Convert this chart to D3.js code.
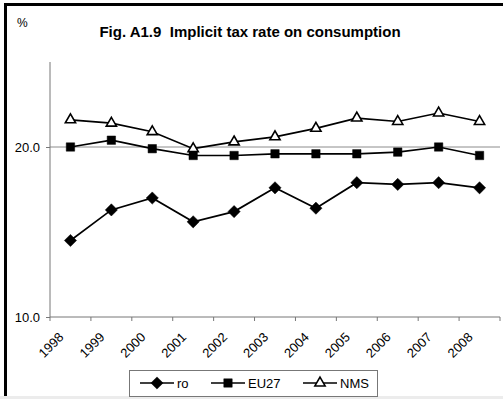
<!DOCTYPE html>
<html>
<head>
<meta charset="utf-8">
<script src="https://cdn.jsdelivr.net/npm/d3@7"></script>
<style>
  html, body { margin: 0; padding: 0; background: #fff; }
  svg { display: block; font-family: "Liberation Sans", Arial, sans-serif; }
</style>
</head>
<body>
<svg id="chart" width="503" height="399"></svg>
<script>
// Implicit tax rate on consumption, % (1998–2008)
const years = ["1998", "1999", "2000", "2001", "2002", "2003", "2004", "2005", "2006", "2007", "2008"];
const ro    = [14.5, 16.3, 17.0, 15.6, 16.2, 17.6, 16.4, 17.9, 17.8, 17.9, 17.6];
const eu27  = [20.0, 20.4, 19.9, 19.5, 19.5, 19.6, 19.6, 19.6, 19.7, 20.0, 19.5];
const nms   = [21.6, 21.4, 20.9, 19.9, 20.3, 20.6, 21.1, 21.7, 21.5, 22.0, 21.5];
const yTicks = [10, 20];
const seriesNames = ["ro", "EU27", "NMS"];

const svg = d3.select("#chart");
const W = 503, H = 399;
const plot = { left: 50, right: 500, top: 62, bottom: 317 };

// frame
svg.append("rect").attr("x", 0).attr("y", H - 3).attr("width", W).attr("height", 3).attr("fill", "#ececec");
svg.append("line").attr("x1", 4).attr("x2", W).attr("y1", 4.5).attr("y2", 4.5)
  .attr("stroke", "#000").attr("stroke-width", 3);
svg.append("line").attr("x1", 5.5).attr("x2", 5.5).attr("y1", 3).attr("y2", H - 3)
  .attr("stroke", "#000").attr("stroke-width", 3);

// title and unit
svg.append("text").attr("x", 250).attr("y", 37).attr("text-anchor", "middle")
  .attr("font-size", 15).attr("font-weight", "bold").style("white-space", "pre")
  .text("Fig. A1.9  Implicit tax rate on consumption");
svg.append("text").attr("x", 17).attr("y", 27).attr("font-size", 12).text("%");

const x = d3.scaleBand().domain(years).range([plot.left, plot.right]);
const y = d3.scaleLinear().domain([10, 25]).range([plot.bottom, plot.top]);

// gridline at 20
svg.append("g").selectAll("line").data(yTicks.filter(t => t > 10)).join("line")
  .attr("x1", plot.left).attr("x2", plot.right)
  .attr("y1", d => y(d)).attr("y2", d => y(d))
  .attr("stroke", "#8c8c8c").attr("stroke-width", 1);

// y axis
const yAxis = svg.append("g").attr("transform", `translate(${plot.left},0)`)
  .call(d3.axisLeft(y).tickValues(yTicks).tickFormat(d3.format(".1f")).tickSize(4).tickPadding(6));
yAxis.select(".domain").attr("stroke", "#777").attr("d", `M0,${plot.top}V${plot.bottom}`);
yAxis.selectAll(".tick line").attr("stroke", "#777");
yAxis.selectAll("text").attr("font-size", 13).attr("fill", "#000").attr("font-family", "Liberation Sans, Arial, sans-serif");

// x axis: ticks at category boundaries
const xAxisG = svg.append("g").attr("transform", `translate(0,${plot.bottom})`);
xAxisG.append("line").attr("x1", plot.left).attr("x2", plot.right).attr("stroke", "#777");
const bounds = years.map(d => x(d)).concat([plot.right]);
xAxisG.selectAll("line.tk").data(bounds).join("line").attr("class", "tk")
  .attr("x1", d => d).attr("x2", d => d).attr("y1", 0).attr("y2", 4).attr("stroke", "#777");
xAxisG.selectAll("text").data(years).join("text")
  .attr("transform", d => `translate(${x(d) + x.bandwidth() / 2 - 6},${21}) rotate(-45)`)
  .attr("text-anchor", "end").attr("font-size", 13).text(d => d);

// series
const cx = d => x(d) + x.bandwidth() / 2;
const line = d3.line().x((v, i) => cx(years[i])).y(v => y(v));
const sym = {
  ro:   { type: d3.symbolDiamond2, size: 95, fill: "#000" },
  EU27: { type: d3.symbolSquare2, size: 90, fill: "#000" },
  NMS:  { type: d3.symbolTriangle2, size: 75, fill: "#fff" }
};
const data = { ro: ro, EU27: eu27, NMS: nms };

function marker(g, name, px, py) {
  const s = sym[name];
  g.append("path").attr("d", d3.symbol(s.type, s.size)())
    .attr("transform", `translate(${px},${py})`)
    .attr("fill", s.fill).attr("stroke", "#000").attr("stroke-width", name === "NMS" ? 1.6 : 0.5);
}

seriesNames.forEach(name => {
  const g = svg.append("g");
  g.append("path").datum(data[name]).attr("d", line)
    .attr("fill", "none").attr("stroke", "#000").attr("stroke-width", 1.7);
  data[name].forEach((v, i) => marker(g, name, cx(years[i]), y(v)));
});

// legend
const lg = svg.append("g");
lg.append("rect").attr("x", 129.5).attr("y", 370.5).attr("width", 248).attr("height", 26)
  .attr("fill", "#fff").attr("stroke", "#777");
const items = [
  { name: "ro",   x0: 140, x1: 174, tx: 177 },
  { name: "EU27", x0: 211, x1: 245, tx: 248 },
  { name: "NMS",  x0: 303, x1: 337, tx: 340 }
];
items.forEach(it => {
  const ly = 383;
  lg.append("line").attr("x1", it.x0).attr("x2", it.x1).attr("y1", ly).attr("y2", ly)
    .attr("stroke", "#000").attr("stroke-width", 1.6);
  marker(lg, it.name, (it.x0 + it.x1) / 2, ly);
  lg.append("text").attr("x", it.tx).attr("y", ly + 4.5).attr("font-size", 13).text(it.name);
});
</script>
</body>
</html>
